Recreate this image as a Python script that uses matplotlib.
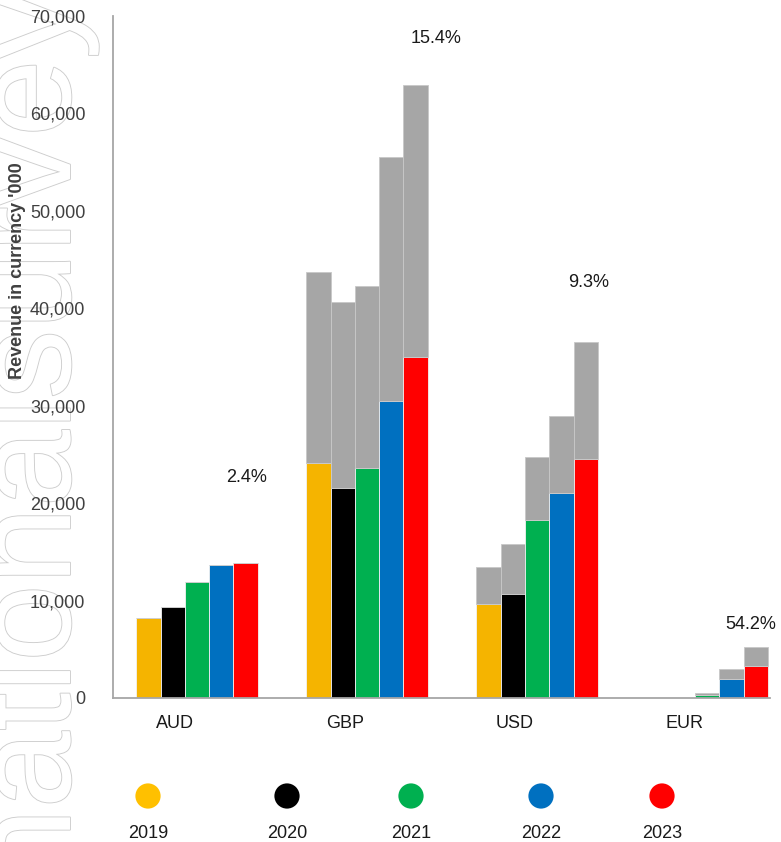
import numpy as np
import matplotlib.pyplot as plt
import matplotlib.patheffects as pe

plt.rcParams['font.family'] = ['Liberation Sans', 'DejaVu Sans']

currencies = ['AUD', 'GBP', 'USD', 'EUR']
years = ['2019', '2020', '2021', '2022', '2023']
colours = ['#F5B400', '#000000', '#00B050', '#0070C0', '#FF0000']
legend_colours = ['#FFC000', '#000000', '#00B050', '#0070C0', '#FF0000']

# coloured part of each bar (revenue '000), one list per year, order = currencies
base_2019 = [8240, 24090, 9650, 0]
base_2020 = [9340, 21550, 10670, 0]
base_2021 = [11870, 23640, 18300, 340]
base_2022 = [13650, 30450, 21000, 1950]
base_2023 = [13860, 35000, 24560, 3280]

# grey part stacked on top
grey_2019 = [0, 19600, 3830, 0]
grey_2020 = [0, 19060, 5170, 0]
grey_2021 = [0, 18610, 6400, 170]
grey_2022 = [0, 25080, 7940, 1060]
grey_2023 = [0, 27900, 11940, 1920]

growth = ['2.4%', '15.4%', '9.3%', '54.2%']

base = [base_2019, base_2020, base_2021, base_2022, base_2023]
grey = [grey_2019, grey_2020, grey_2021, grey_2022, grey_2023]

# layout
W = 0.143
growth_dx = [0.294, 0.406, 0.306, 0.259]
growth_y = [22600, 67700, 42600, 7500]

fig = plt.figure(figsize=(7.81, 8.42), dpi=100)

# faint outlined watermark down the left edge
wm = fig.text(70/781, 1 + 10/842, 'nationalsurvey', rotation=90, rotation_mode='anchor',
              ha='right', va='baseline', fontsize=100, color='white', zorder=-5)
wm.set_path_effects([pe.withStroke(linewidth=1.3, foreground='#cdcdcd')])

ax = fig.add_axes([113/781, 1-698/842, (770-113)/781, (698-16)/842])
ax.patch.set_alpha(0)

x = np.arange(len(currencies))
for k in range(len(years)):
    pos = x + (k - 2) * W
    ax.bar(pos, base[k], W, color=colours[k], edgecolor='#f2f2f2', linewidth=0.6)
    ax.bar(pos, grey[k], W, bottom=base[k], color='#A6A6A6', edgecolor='#c8c8c8', linewidth=0.6)

for i in range(len(currencies)):
    ax.text(x[i] + growth_dx[i], growth_y[i], growth[i], ha='center', va='center',
            fontsize=13, color='#1a1a1a')

ax.set_ylim(0, 70000)
ax.set_xlim(-0.494, 3.37)
ax.set_yticks(np.arange(0, 70001, 10000))
ax.set_yticklabels(['{:,}'.format(v) for v in range(0, 70001, 10000)])
ax.set_xticks(x - 0.13)
ax.set_xticklabels(currencies)
ax.tick_params(axis='y', length=0, pad=20, labelsize=13, labelcolor='#404040')
ax.tick_params(axis='x', length=0, pad=12, labelsize=13, labelcolor='#1a1a1a')
for s in ['top', 'right']:
    ax.spines[s].set_visible(False)
for s in ['left', 'bottom']:
    ax.spines[s].set_color('#A6A6A6')
    ax.spines[s].set_linewidth(1.3)

fig.text(18/781, 1-271/842, "Revenue in currency '000", rotation=90, ha='center', va='center',
         fontsize=13, fontweight='bold', color='#404040')

# legend row
leg_x = [148, 287, 411, 541, 662]
lax = fig.add_axes([0, 0, 1, 1])
lax.set_xlim(0, 781)
lax.set_ylim(842, 0)
lax.axis('off')
lax.patch.set_alpha(0)
for k in range(len(years)):
    lax.scatter(leg_x[k], 796, s=330, color=legend_colours[k], edgecolors='none')
    lax.text(leg_x[k], 833, years[k], ha='center', va='center', fontsize=13, color='#1a1a1a')

fig.savefig('out.png', dpi=100)
